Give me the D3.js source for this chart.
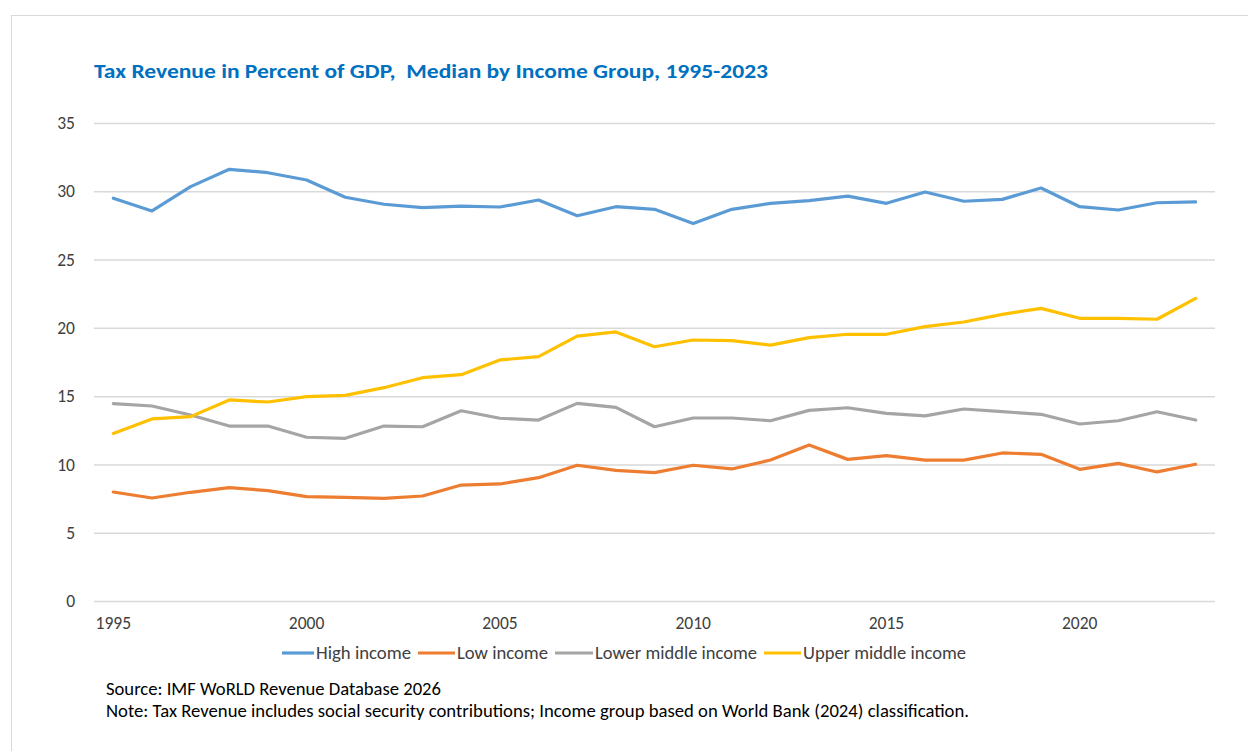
<!DOCTYPE html>
<html>
<head>
<meta charset="utf-8">
<script src="https://cdn.jsdelivr.net/npm/d3@7"></script>
<style>
  html, body { margin: 0; padding: 0; background: #fff; }
  svg { display: block; }
</style>
</head>
<body>
<svg id="chart" width="1248" height="751"></svg>
<script>
const years = d3.range(1995, 2024);
const highIncome = [29.49, 28.56, 30.34, 31.61, 31.36, 30.83, 29.56, 29.05, 28.80, 28.92,
  28.85, 29.36, 28.21, 28.87, 28.68, 27.65, 28.68, 29.12, 29.31, 29.65,
  29.12, 29.95, 29.27, 29.41, 30.24, 28.87, 28.63, 29.16, 29.22];
const lowIncome = [7.98, 7.54, 7.96, 8.30, 8.08, 7.64, 7.59, 7.52, 7.69, 8.49,
  8.57, 9.03, 9.94, 9.57, 9.40, 9.94, 9.67, 10.32, 11.42, 10.37,
  10.64, 10.32, 10.32, 10.84, 10.74, 9.64, 10.08, 9.45, 10.01];
const lowerMiddleIncome = [14.45, 14.28, 13.62, 12.81, 12.81, 11.99, 11.91, 12.81, 12.76, 13.93,
  13.38, 13.25, 14.47, 14.18, 12.76, 13.40, 13.40, 13.20, 13.96, 14.15,
  13.74, 13.55, 14.06, 13.86, 13.67, 12.96, 13.20, 13.86, 13.25];
const upperMiddleIncome = [12.27, 13.33, 13.50, 14.72, 14.57, 14.96, 15.06, 15.62, 16.35, 16.57,
  17.65, 17.89, 19.40, 19.70, 18.62, 19.11, 19.06, 18.74, 19.28, 19.53,
  19.53, 20.09, 20.43, 20.99, 21.43, 20.70, 20.70, 20.63, 22.16];
const seriesNames = ["High income", "Low income", "Lower middle income", "Upper middle income"];
const seriesColors = ["#5B9BD5", "#ED7D31", "#A5A5A5", "#FFC000"];
const yTicks = [0, 5, 10, 15, 20, 25, 30, 35];
const xTickLabels = [1995, 2000, 2005, 2010, 2015, 2020];
const titleText = "Tax Revenue in Percent of GDP,  Median by Income Group, 1995-2023";
const sourceText = "Source: IMF WoRLD Revenue Database 2026";
const noteText = "Note: Tax Revenue includes social security contributions; Income group based on World Bank (2024) classification.";

const series = [highIncome, lowIncome, lowerMiddleIncome, upperMiddleIncome].map((vals, i) => ({
  name: seriesNames[i], color: seriesColors[i], values: vals
}));

const svg = d3.select("#chart");
const font = "Carlito, Calibri, 'Liberation Sans', Arial, sans-serif";

// outer border
svg.append("rect").attr("x", 11.5).attr("y", 15.5).attr("width", 1260).attr("height", 760)
  .attr("fill", "none").attr("stroke", "#d9d9d9").attr("stroke-width", 1);

const plot = { left: 94, right: 1215, top: 123, bottom: 601 };

const x = d3.scaleBand().domain(years).range([plot.left, plot.right]);
const xc = d => x(d) + x.bandwidth() / 2;
const y = d3.scaleLinear().domain([0, 35]).range([plot.bottom, plot.top]);

// title
svg.append("text").attr("x", 94).attr("y", 78)
  .attr("font-family", font).attr("font-size", 21).attr("font-weight", "bold")
  .attr("fill", "#0070C0").style("white-space", "pre")
  .attr("textLength", 674).attr("lengthAdjust", "spacingAndGlyphs")
  .text(titleText);

// gridlines + y axis
const yAxis = d3.axisLeft(y).tickValues(yTicks).tickSize(-(plot.right - plot.left)).tickPadding(19).tickFormat(d3.format("d"));
const gy = svg.append("g").attr("transform", `translate(${plot.left},0)`).call(yAxis);
gy.select(".domain").remove();
gy.selectAll(".tick line").attr("stroke", "#d9d9d9").attr("stroke-width", 1.5);
gy.selectAll(".tick text").attr("font-family", font).attr("font-size", 17.5).attr("fill", "#404040");

// x axis
const xAxis = d3.axisBottom(x).tickValues(xTickLabels).tickSize(0).tickPadding(16);
const gx = svg.append("g").attr("transform", `translate(0,${plot.bottom})`).call(xAxis);
gx.select(".domain").remove();
gx.selectAll(".tick text").attr("font-family", font).attr("font-size", 17.5).attr("fill", "#404040");

// lines
const line = d3.line().x((d, i) => xc(years[i])).y(d => y(d));
svg.append("g").selectAll("path").data(series).join("path")
  .attr("d", d => line(d.values))
  .attr("fill", "none").attr("stroke", d => d.color).attr("stroke-width", 3.2)
  .attr("stroke-linejoin", "round").attr("stroke-linecap", "round");

// legend
const legendItems = [
  { lx: 282, tx: 316, w: 95 },
  { lx: 418, tx: 457, w: 91 },
  { lx: 555, tx: 595, w: 162 },
  { lx: 764, tx: 803, w: 163 }
];
const lg = svg.append("g");
series.forEach((s, i) => {
  const it = legendItems[i];
  lg.append("line").attr("x1", it.lx).attr("x2", it.tx - 2).attr("y1", 653).attr("y2", 653)
    .attr("stroke", s.color).attr("stroke-width", 3.2);
  lg.append("text").attr("x", it.tx).attr("y", 659)
    .attr("font-family", font).attr("font-size", 18).attr("fill", "#404040")
    .attr("textLength", it.w).attr("lengthAdjust", "spacingAndGlyphs")
    .text(s.name);
});

// source & note
svg.append("text").attr("x", 106).attr("y", 695).attr("font-family", font)
  .attr("font-size", 18).attr("fill", "#000")
  .attr("textLength", 335).attr("lengthAdjust", "spacingAndGlyphs").text(sourceText);
svg.append("text").attr("x", 106).attr("y", 717).attr("font-family", font)
  .attr("font-size", 18).attr("fill", "#000")
  .attr("textLength", 863).attr("lengthAdjust", "spacingAndGlyphs").text(noteText);
</script>
</body>
</html>
